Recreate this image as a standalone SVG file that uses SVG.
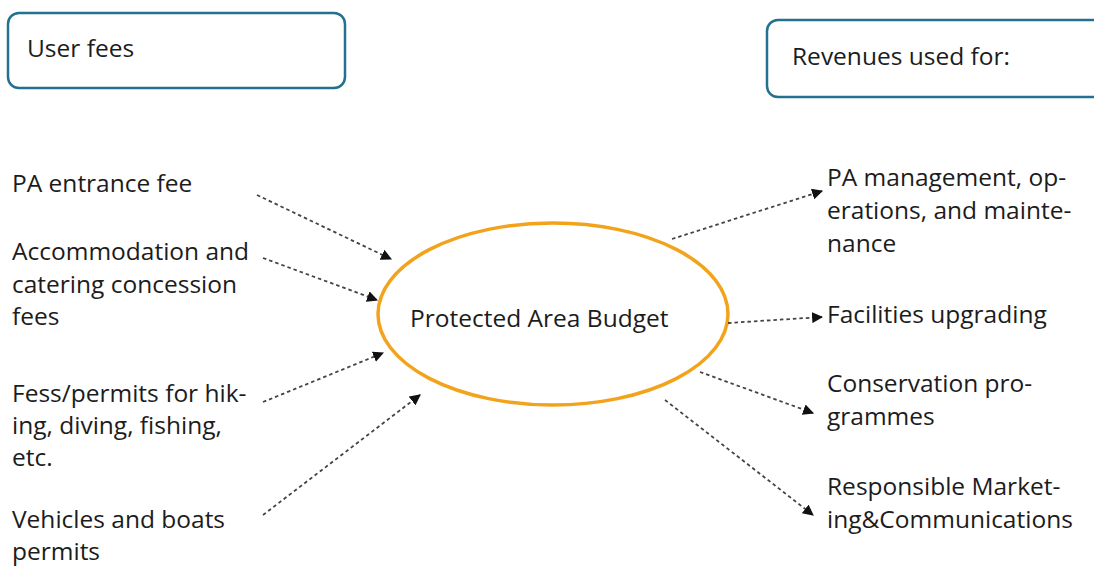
<svg xmlns="http://www.w3.org/2000/svg" width="1094" height="574" viewBox="0 0 1094 574">
<style>
text{font-family:"Open Sans","Noto Sans",sans-serif;font-size:24.5px;fill:#1c1c1c}
.box{fill:#fff;stroke:#23708f;stroke-width:2.5}
.conn line{stroke:#444;stroke-width:1.8;stroke-dasharray:3.5 3;marker-end:url(#ah)}
</style>
<defs>
<marker id="ah" viewBox="0 0 10 10" refX="9" refY="5" markerWidth="11" markerHeight="11" markerUnits="userSpaceOnUse" orient="auto">
<path d="M0,0 L10,5 L0,10 z" fill="#111"/>
</marker>
</defs>
<rect width="1094" height="574" fill="#fff"/>
<g id="user-fees"><rect class="box" x="8" y="13" width="337" height="75" rx="11"/><text x="27" y="57">User fees</text></g>
<g id="revenues"><rect class="box" x="767" y="20" width="345" height="77" rx="11"/><text x="792" y="65">Revenues used for:</text></g>
<g id="budget"><ellipse cx="553" cy="314" rx="175" ry="91" fill="#fff" stroke="#f2a31b" stroke-width="3.5"/><text x="410" y="327">Protected Area Budget</text></g>
<g id="entrance"><text x="12" y="192">PA entrance fee</text></g>
<g id="accommodation"><text x="12" y="260">Accommodation and</text><text x="12" y="293">catering concession</text><text x="12" y="325">fees</text></g>
<g id="permits"><text x="12" y="402">Fess/permits for hik-</text><text x="12" y="434">ing, diving, fishing,</text><text x="12" y="466">etc.</text></g>
<g id="vehicles"><text x="12" y="528">Vehicles and boats</text><text x="12" y="560">permits</text></g>
<g id="management"><text x="827" y="186">PA management, op-</text><text x="827" y="219">erations, and mainte-</text><text x="827" y="252">nance</text></g>
<g id="facilities"><text x="827" y="323">Facilities upgrading</text></g>
<g id="conservation"><text x="827" y="392">Conservation pro-</text><text x="827" y="425">grammes</text></g>
<g id="marketing"><text x="827" y="495">Responsible Market-</text><text x="827" y="528">ing&amp;Communications</text></g>
<g class="conn" id="connectors">
<line x1="257" y1="195" x2="391" y2="259"/>
<line x1="263" y1="258" x2="377" y2="300"/>
<line x1="263" y1="402" x2="383" y2="353"/>
<line x1="263" y1="515" x2="420" y2="395"/>
<line x1="672" y1="239" x2="822" y2="191"/>
<line x1="728" y1="323" x2="822" y2="317"/>
<line x1="700" y1="372" x2="813" y2="413"/>
<line x1="665" y1="400" x2="813" y2="515"/>
</g>
</svg>
